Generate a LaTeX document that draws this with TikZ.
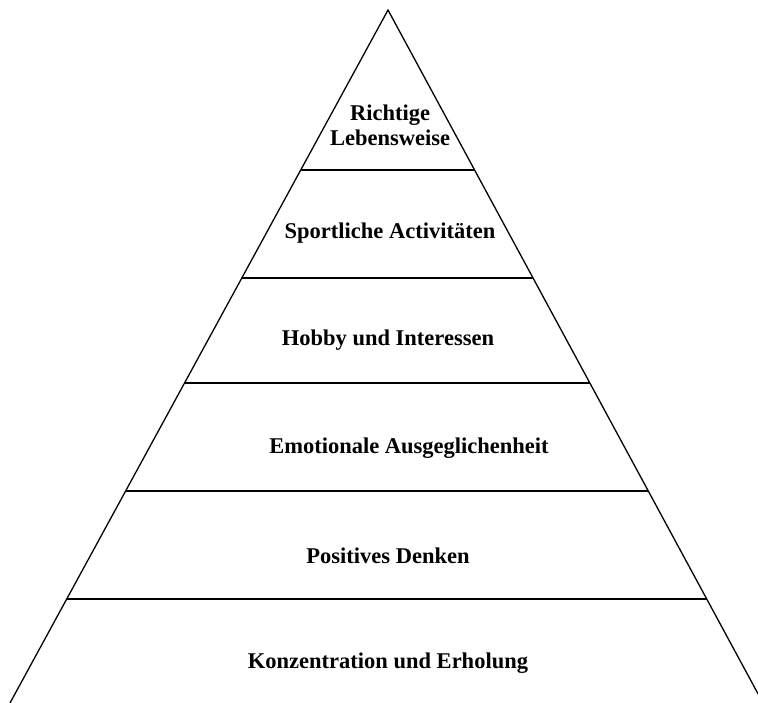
\documentclass[tikz,border=0pt]{standalone}
\usepackage{fontspec}
\setmainfont{Liberation Serif}

\tikzset{
  level/.style={font=\bfseries\fontsize{22.5}{25}\selectfont, align=center}
}

\begin{document}
\begin{tikzpicture}[x=1pt, y=-1pt]
  \useasboundingbox (0,0) rectangle (758,703);
  \clip (0,0) rectangle (758,703);
  % pyramid
  \draw[line width=1.3pt] (10,703) -- (388,10) -- (763,703);
  \foreach \y in {170,278,383,491,599}
    \draw[line width=1.3pt] ({388-0.5449*(\y-10)},\y) -- ({388+0.5411*(\y-10)},\y);

  \node[level] (richtig) at (390,125) {Richtige\\Lebensweise};
  \node[level] (sport) at (390,233) {Sportliche Activitäten};
  \node[level] (hobby) at (388,340) {Hobby und Interessen};
  \node[level] (emotion) at (409,448) {Emotionale Ausgeglichenheit};
  \node[level] (positiv) at (388,556) {Positives Denken};
  \node[level] (konz) at (388,663) {Konzentration und Erholung};
\end{tikzpicture}
\end{document}
